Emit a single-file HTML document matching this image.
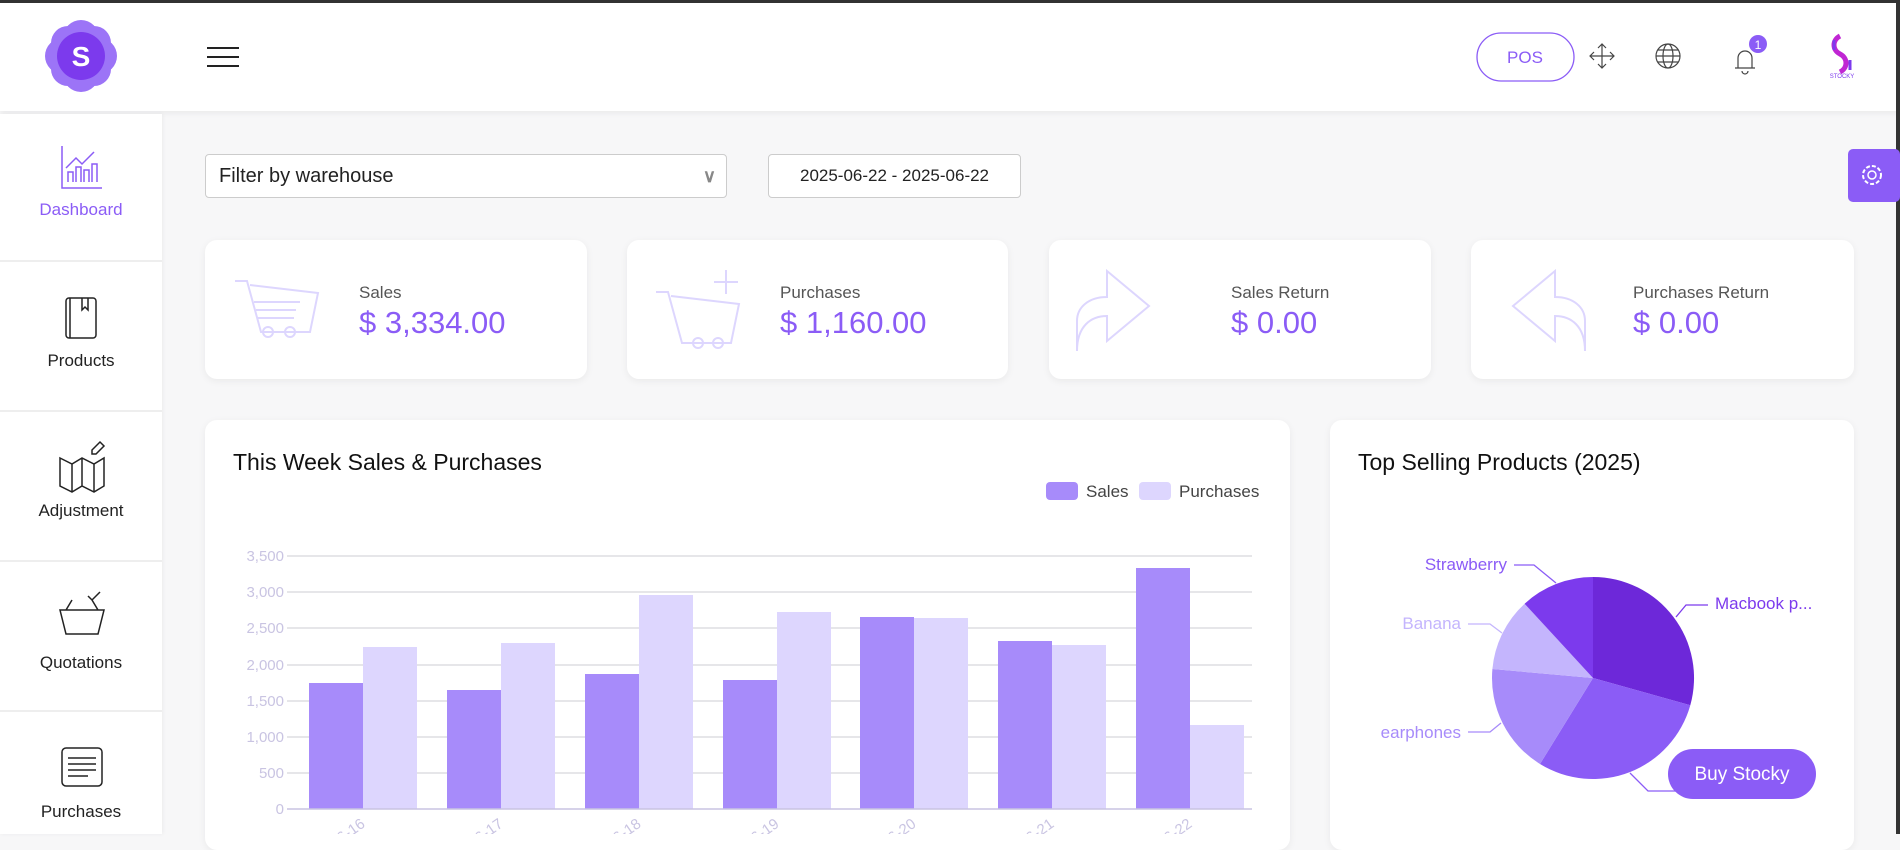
<!DOCTYPE html>
<html><head><meta charset="utf-8"><style>
*{margin:0;padding:0;box-sizing:border-box}
body{width:1900px;height:834px;overflow:hidden;background:#f7f7f8;font-family:"Liberation Sans",sans-serif;position:relative}
.a{position:absolute}
.card{position:absolute;background:#fff;border-radius:12px;box-shadow:0 2px 8px rgba(0,0,0,.06)}
.lbl{position:absolute;font-size:17px;color:#555}
.val{position:absolute;font-size:31px;color:#8b5cf6}
.side{position:absolute;left:0;width:162px;text-align:center;font-size:17px;color:#222}
</style></head><body>
<div class="a" style="left:0;top:0;width:1900px;height:3px;background:#333"></div>
<div class="a" style="left:0;top:3px;width:1900px;height:108px;background:#fff;box-shadow:0 2px 6px rgba(0,0,0,.06)"></div>
<div class="a" style="left:0;top:114px;width:162px;height:720px;background:#fff;box-shadow:1px 0 4px rgba(0,0,0,.05)"></div>
<div class="a" style="left:1896px;top:0;width:4px;height:834px;background:#333"></div>

<svg class="a" style="left:0;top:0" width="1900" height="834">
 <g fill="#8b5cf6" opacity=".85">
  <circle cx="81" cy="38" r="18"/><circle cx="81" cy="74" r="18"/><circle cx="63" cy="56" r="18"/><circle cx="99" cy="56" r="18"/>
  <circle cx="68" cy="43" r="17"/><circle cx="94" cy="43" r="17"/><circle cx="68" cy="69" r="17"/><circle cx="94" cy="69" r="17"/>
 </g>
 <circle cx="81" cy="56" r="24" fill="#7c3aed"/>
 <text x="81" y="66" font-size="28" fill="#fff" text-anchor="middle" font-family="Liberation Sans" font-weight="bold">S</text>
 <g stroke="#222" stroke-width="2"><line x1="207" y1="48" x2="239" y2="48"/><line x1="207" y1="57" x2="239" y2="57"/><line x1="207" y1="66" x2="239" y2="66"/></g>
 <rect x="1477" y="33" width="97" height="48" rx="24" fill="#fff" stroke="#8b5cf6" stroke-width="1.3"/>
 <text x="1525" y="63" font-size="17" fill="#8b5cf6" text-anchor="middle">POS</text>
 <g stroke="#444" stroke-width="1.2" fill="none">
  <path d="M1602 44v24M1590 56h24M1598 48l4-4 4 4M1598 64l4 4 4-4M1594 52l-4 4 4 4M1610 52l4 4-4 4"/>
  <circle cx="1668" cy="56" r="12"/><ellipse cx="1668" cy="56" rx="5" ry="12"/><path d="M1656 56h24M1658 50h20M1658 62h20"/>
  <path d="M1735 68h20M1738 68v-10a7 7 0 0 1 14 0v10M1742 71a3 3 0 0 0 6 0"/>
 </g>
 <circle cx="1758" cy="44" r="9" fill="#8b5cf6"/><text x="1758" y="49" font-size="12" fill="#fff" text-anchor="middle">1</text>
 <path d="M1840 36c-8 4-8 14 0 18s8 14 0 18" stroke="#c026d3" stroke-width="5" fill="none"/>
 <path d="M1834 40v10M1850 60v10" stroke="#7c3aed" stroke-width="3"/>
 <text x="1842" y="78" font-size="6" fill="#7c3aed" text-anchor="middle">STOCKY</text>
 <rect x="1848" y="149" width="52" height="53" rx="5" fill="#8b5cf6"/>
 <circle cx="1872" cy="175" r="9" stroke="#fff" stroke-width="2" fill="none" stroke-dasharray="4 2"/><circle cx="1872" cy="175" r="4" stroke="#fff" stroke-width="1.5" fill="none"/>
 <g stroke="#ddd"><line x1="0" y1="261" x2="162" y2="261"/><line x1="0" y1="411" x2="162" y2="411"/><line x1="0" y1="561" x2="162" y2="561"/><line x1="0" y1="711" x2="162" y2="711"/></g>
 <g stroke="#8b5cf6" stroke-width="1.5" fill="none"><path d="M62 146v42h40M68 182v-10h5v10M76 182v-15h5v15M84 182v-12h5v12M92 182v-18h5v18M66 168l10-10 6 6 12-12"/></g>
 <g stroke="#222" stroke-width="1.5" fill="none">
  <rect x="66" y="298" width="30" height="40" rx="3"/><path d="M70 298v40M82 298v12l3-3 3 3v-12"/>
  <path d="M60 458l12 6 10-6 12 6 10-6v28l-10 6-12-6-10 6-12-6zM72 464v28M82 458v28M94 464v28M92 450l8-8 4 4-8 8h-4z"/>
  <path d="M60 610h44l-6 24H66zM66 610l6-10M98 610l-6-10M88 596l4 4 8-8"/>
  <rect x="62" y="748" width="40" height="38" rx="4"/><path d="M68 758h28M68 764h28M68 770h28M68 776h20"/>
 </g>
</svg>

<div class="a" style="left:205px;top:154px;width:522px;height:44px;background:#fff;border:1px solid #ccc;border-radius:4px;font-size:20px;line-height:42px;padding-left:13px;color:#222">Filter by warehouse<span style="position:absolute;right:10px;color:#888;font-size:18px;font-weight:bold">&#8744;</span></div>
<div class="a" style="left:768px;top:154px;width:253px;height:44px;background:#fff;border:1px solid #ccc;border-radius:4px;font-size:17px;line-height:42px;text-align:center;color:#222">2025-06-22 - 2025-06-22</div>

<div class="card" style="left:205px;top:240px;width:382px;height:139px"></div>
<div class="card" style="left:627px;top:240px;width:381px;height:139px"></div>
<div class="card" style="left:1049px;top:240px;width:382px;height:139px"></div>
<div class="card" style="left:1471px;top:240px;width:383px;height:139px"></div>
<div class="card" style="left:205px;top:420px;width:1085px;height:430px"></div>
<div class="card" style="left:1330px;top:420px;width:524px;height:430px"></div>

<svg class="a" style="left:0;top:0" width="1900" height="834">
 <g stroke="#ddd6fe" stroke-width="2" fill="none">
  <path d="M235 281h12l14 51h49l8-39-68-8M254 302h46M256 310h40M258 318h36"/><circle cx="268" cy="332" r="5"/><circle cx="290" cy="332" r="5"/>
  <path d="M656 292h12l14 51h49l8-39-68-8M726 270v24M714 282h24"/><circle cx="698" cy="343" r="5"/><circle cx="718" cy="343" r="5"/>
  <path d="M1077 351v-30c0-14 12-24 30-24v-26l42 35-42 35v-25c-16 0-30 10-30 35z"/>
  <path d="M1585 351v-30c0-14-12-24-30-24v-26l-42 35 42 35v-25c16 0 30 10 30 35z"/>
 </g>
 <rect x="1046" y="482" width="32" height="18" rx="4" fill="#a78bfa"/><text x="1086" y="497" font-size="17" fill="#444">Sales</text>
 <rect x="1139" y="482" width="32" height="18" rx="4" fill="#ddd6fe"/><text x="1179" y="497" font-size="17" fill="#444">Purchases</text>
 <text x="233" y="470" font-size="23" fill="#111">This Week Sales &amp; Purchases</text>
 <text x="1358" y="470" font-size="23" fill="#111">Top Selling Products (2025)</text>

 <g stroke="#d6d6dc" stroke-width="1.3">
  <line x1="287" y1="556" x2="1252" y2="556"/><line x1="287" y1="592" x2="1252" y2="592"/><line x1="287" y1="628" x2="1252" y2="628"/><line x1="287" y1="665" x2="1252" y2="665"/><line x1="287" y1="701" x2="1252" y2="701"/><line x1="287" y1="737" x2="1252" y2="737"/><line x1="287" y1="773" x2="1252" y2="773"/>
 </g>
 <g font-size="15" fill="#c9c4e2" text-anchor="end">
  <text x="284" y="561">3,500</text><text x="284" y="597">3,000</text><text x="284" y="633">2,500</text><text x="284" y="670">2,000</text><text x="284" y="706">1,500</text><text x="284" y="742">1,000</text><text x="284" y="778">500</text><text x="284" y="814">0</text>
 </g>
 <g fill="#a78bfa">
  <rect x="309" y="683" width="54" height="126"/><rect x="447" y="690" width="54" height="119"/><rect x="585" y="674" width="54" height="135"/><rect x="723" y="680" width="54" height="129"/><rect x="860" y="617" width="54" height="192"/><rect x="998" y="641" width="54" height="168"/><rect x="1136" y="568" width="54" height="241"/>
 </g>
 <g fill="#ddd6fe">
  <rect x="363" y="647" width="54" height="162"/><rect x="501" y="643" width="54" height="166"/><rect x="639" y="595" width="54" height="214"/><rect x="777" y="612" width="54" height="197"/><rect x="914" y="618" width="54" height="191"/><rect x="1052" y="645" width="54" height="164"/><rect x="1190" y="725" width="54" height="84"/>
 </g>
 <line x1="287" y1="809" x2="1252" y2="809" stroke="#c9c4e2" stroke-width="1.5"/>
 <g font-size="15" fill="#c9c4e2" text-anchor="end">
  <text transform="translate(366,826) rotate(-35)">2025-06-16</text><text transform="translate(504,826) rotate(-35)">2025-06-17</text><text transform="translate(642,826) rotate(-35)">2025-06-18</text><text transform="translate(780,826) rotate(-35)">2025-06-19</text><text transform="translate(917,826) rotate(-35)">2025-06-20</text><text transform="translate(1055,826) rotate(-35)">2025-06-21</text><text transform="translate(1193,826) rotate(-35)">2025-06-22</text>
 </g>

 <path d="M1593 678L1593 577A101 101 0 0 1 1690.3 705.2Z" fill="#6d28d9"/>
 <path d="M1593 678L1690.3 705.2A101 101 0 0 1 1540 764Z" fill="#8b5cf6"/>
 <path d="M1593 678L1540 764A101 101 0 0 1 1492.4 669Z" fill="#a78bfa"/>
 <path d="M1593 678L1492.4 669A101 101 0 0 1 1524.6 603.7Z" fill="#c4b5fd"/>
 <path d="M1593 678L1524.6 603.7A101 101 0 0 1 1593 577Z" fill="#7c3aed"/>
 <g fill="none" stroke-width="1.3">
  <path d="M1514 565h20l22 18" stroke="#8b5cf6"/>
  <path d="M1708 605h-22l-10 12" stroke="#7c3aed"/>
  <path d="M1468 624h22l12 9" stroke="#c4b5fd"/>
  <path d="M1468 732h22l11-9" stroke="#a78bfa"/>
  <path d="M1630 773l18 18h30" stroke="#8b5cf6"/>
 </g>
 <g font-size="17">
  <text x="1507" y="570" fill="#8b5cf6" text-anchor="end">Strawberry</text>
  <text x="1715" y="609" fill="#7c3aed">Macbook p...</text>
  <text x="1461" y="629" fill="#c4b5fd" text-anchor="end">Banana</text>
  <text x="1461" y="738" fill="#a78bfa" text-anchor="end">earphones</text>
 </g>
 <rect x="1668" y="749" width="148" height="50" rx="25" fill="#8b5cf6"/>
 <text x="1742" y="780" font-size="19" fill="#fff" text-anchor="middle">Buy Stocky</text>
</svg>

<div class="lbl" style="left:359px;top:283px">Sales</div><div class="val" style="left:359px;top:305px">$ 3,334.00</div>
<div class="lbl" style="left:780px;top:283px">Purchases</div><div class="val" style="left:780px;top:305px">$ 1,160.00</div>
<div class="lbl" style="left:1231px;top:283px">Sales Return</div><div class="val" style="left:1231px;top:305px">$ 0.00</div>
<div class="lbl" style="left:1633px;top:283px">Purchases Return</div><div class="val" style="left:1633px;top:305px">$ 0.00</div>

<div class="side" style="top:200px;color:#8b5cf6">Dashboard</div>
<div class="side" style="top:351px">Products</div>
<div class="side" style="top:501px">Adjustment</div>
<div class="side" style="top:653px">Quotations</div>
<div class="side" style="top:802px">Purchases</div>
</body></html>
